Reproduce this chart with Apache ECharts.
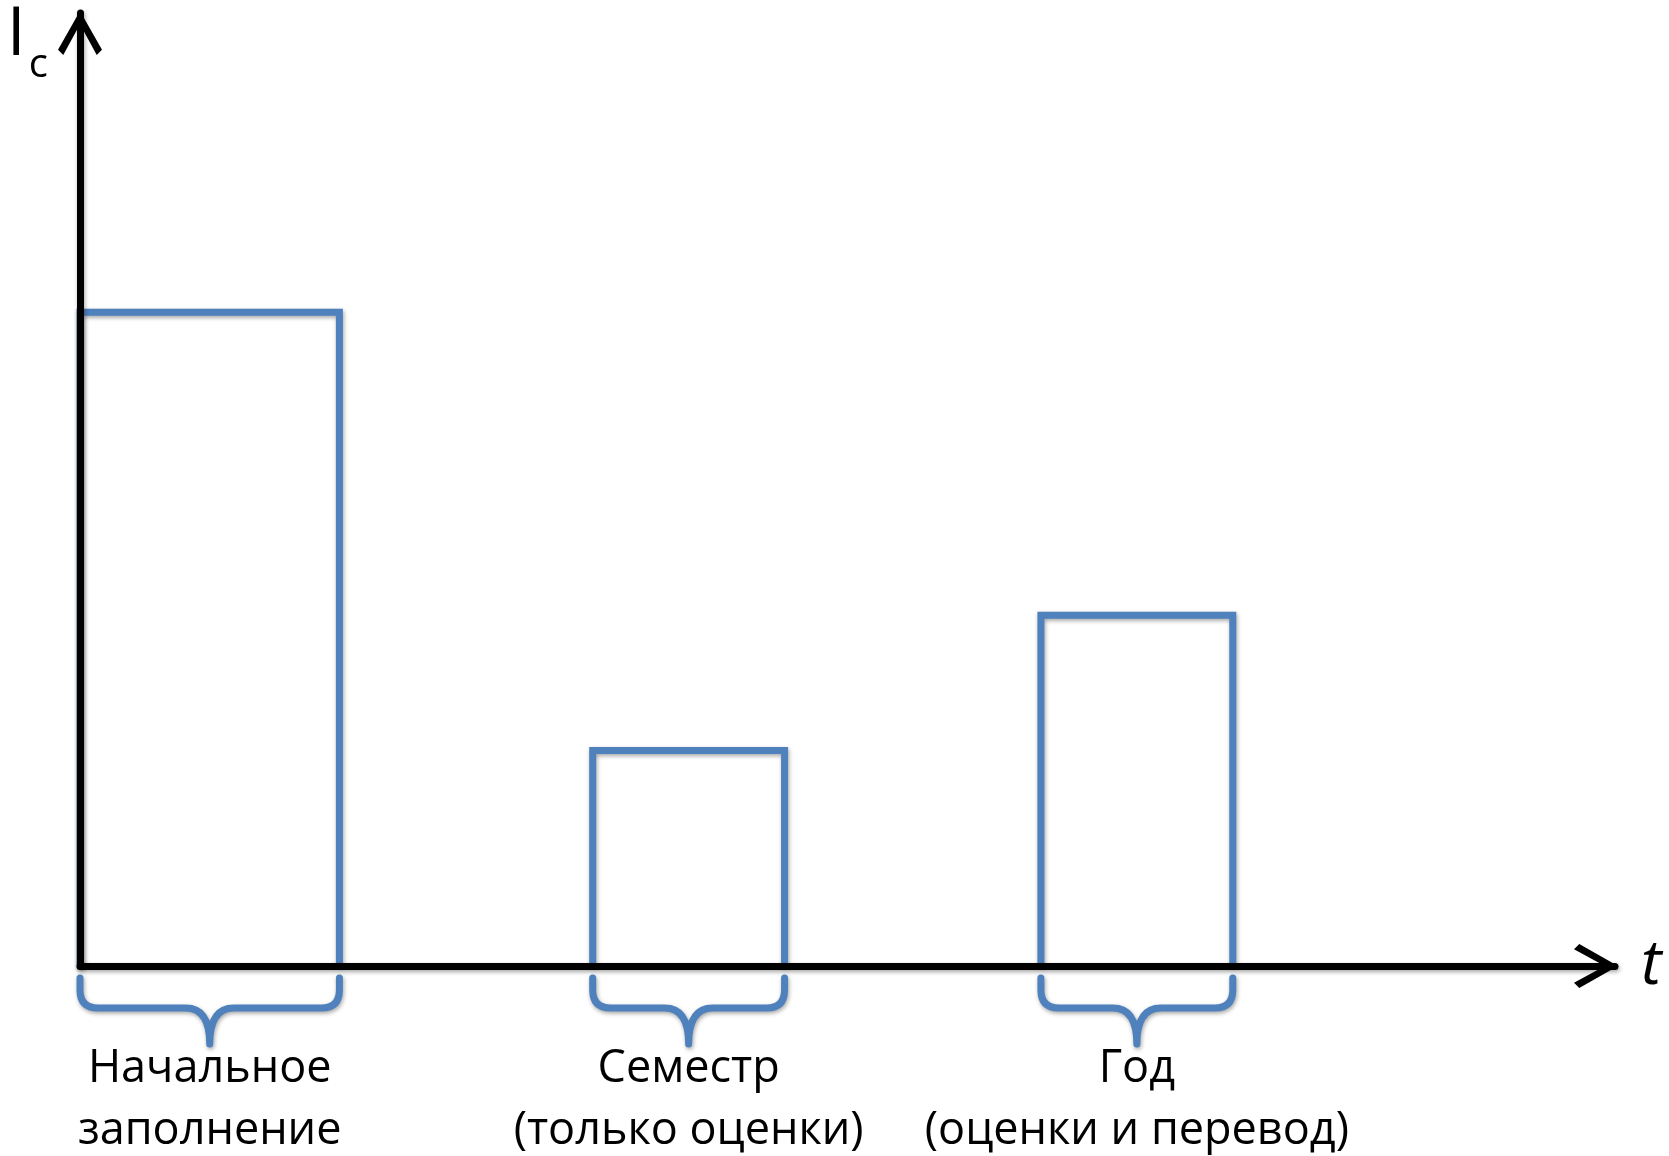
<!DOCTYPE html>
<html>
<head>
<meta charset="utf-8">
<script src="https://cdn.jsdelivr.net/npm/echarts@6/dist/echarts.min.js"></script>
<style>
  html, body { margin: 0; padding: 0; background: #ffffff; }
  #chart { width: 1669px; height: 1156px; }
</style>
</head>
<body>
<div id="chart"></div>
<script>
// ---- data ----
const categories = ['Начальное\nзаполнение', 'Семестр\n(только оценки)', 'Год\n(оценки и перевод)'];
const periodStart = [0, 33.4, 62.6];
const periodEnd = [16.9, 45.9, 75.1];
const intensity = [68.6, 22.6, 36.8];
const yAxisName = ['I', 'c'];
const xAxisName = 't';

const BLUE = '#4f81bd';
const FONT = '"Open Sans", "Noto Sans", sans-serif';
const SHADOW = { shadowColor: 'rgba(0,0,0,0.35)', shadowBlur: 4, shadowOffsetX: 1, shadowOffsetY: 2 };

const seriesData = categories.map((c, i) => [periodStart[i], periodEnd[i], intensity[i], i]);

const chevron = 'path://M50,0 L100,88 L88,100 L50,30 L12,100 L0,88 Z';

const chart = echarts.init(document.getElementById('chart'), null, { renderer: 'canvas' });

function renderItem(params, api) {
  const p0 = api.coord([api.value(0), 0]);
  const p1 = api.coord([api.value(1), 0]);
  const pt = api.coord([api.value(0), api.value(2)]);
  const x0 = p0[0], x1 = p1[0], base = p0[1], top = pt[1];
  const xc = (x0 + x1) / 2;
  const bt = base + 12, bh = base + 42, bc = base + 78;
  const r = 18;
  const brace =
    'M' + x0 + ',' + bt + ' L' + x0 + ',' + (bh - r) +
    ' Q' + x0 + ',' + bh + ' ' + (x0 + r) + ',' + bh +
    ' L' + (xc - 24) + ',' + bh +
    ' Q' + xc + ',' + bh + ' ' + xc + ',' + bc +
    ' M' + x1 + ',' + bt + ' L' + x1 + ',' + (bh - r) +
    ' Q' + x1 + ',' + bh + ' ' + (x1 - r) + ',' + bh +
    ' L' + (xc + 24) + ',' + bh +
    ' Q' + xc + ',' + bh + ' ' + xc + ',' + bc;
  return {
    type: 'group',
    children: [
      {
        type: 'polyline',
        shape: { points: [[x0, base], [x0, top], [x1, top], [x1, base]] },
        style: Object.assign({ stroke: BLUE, lineWidth: 7, fill: null, lineJoin: 'miter', lineCap: 'butt' }, SHADOW)
      },
      {
        type: 'path',
        shape: { pathData: brace },
        style: Object.assign({ stroke: BLUE, lineWidth: 7, fill: null, lineJoin: 'round', lineCap: 'round' }, SHADOW)
      },
      {
        type: 'text',
        x: xc,
        y: base + 72,
        style: {
          text: categories[api.value(3)],
          fill: '#000',
          font: '45px ' + FONT,
          lineHeight: 62,
          align: 'center',
          verticalAlign: 'top'
        }
      }
    ]
  };
}

const axisLineStyle = Object.assign({ color: '#000', width: 7 }, SHADOW);

chart.setOption({
  animation: false,
  backgroundColor: '#ffffff',
  grid: { left: 80, right: 54, top: 13, bottom: 190, containLabel: false },
  xAxis: {
    type: 'value', min: 0, max: 100, z: 5,
    name: xAxisName,
    nameLocation: 'end',
    nameGap: 26,
    nameTextStyle: { fontFamily: FONT, fontStyle: 'italic', fontSize: 62, color: '#000', verticalAlign: 'middle' },
    axisLine: { show: true, onZero: false, symbol: ['none', chevron], symbolSize: [44, 44], symbolOffset: [0, -19], lineStyle: axisLineStyle },
    axisTick: { show: false }, axisLabel: { show: false }, splitLine: { show: false }
  },
  yAxis: {
    type: 'value', min: 0, max: 100, z: 5,
    name: '{i|' + yAxisName[0] + '}{c|' + yAxisName[1] + '}',
    nameLocation: 'end',
    nameGap: 3,
    nameTextStyle: {
      align: 'right', verticalAlign: 'top', padding: [0, 32, 0, 0],
      rich: {
        i: { fontFamily: FONT, fontSize: 68, lineHeight: 68, color: '#000', padding: [0, 0, 16, 0] },
        c: { fontFamily: FONT, fontSize: 40, lineHeight: 40, color: '#000', padding: [44, 0, 0, 3] }
      }
    },
    axisLine: { show: true, onZero: false, symbol: ['none', chevron], symbolSize: [44, 46], symbolOffset: [0, -20], lineStyle: axisLineStyle },
    axisTick: { show: false }, axisLabel: { show: false }, splitLine: { show: false }
  },
  series: [{
    type: 'custom',
    z: 2,
    clip: false,
    renderItem: renderItem,
    data: seriesData
  }]
});
</script>
</body>
</html>
